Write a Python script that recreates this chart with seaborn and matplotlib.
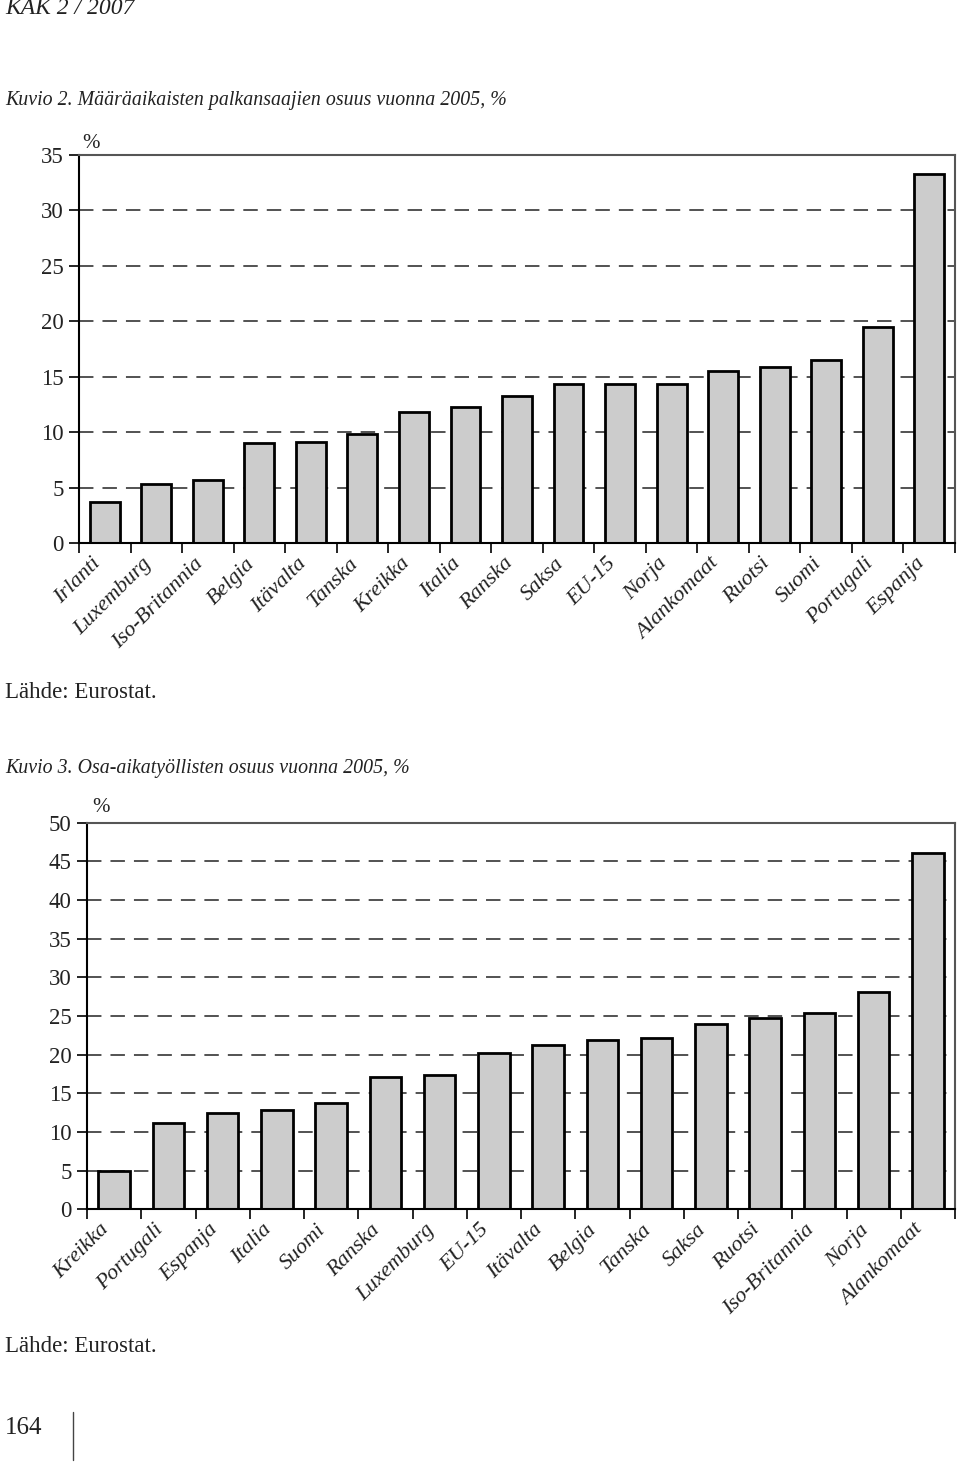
import numpy as np
import matplotlib
matplotlib.use("Agg")
import matplotlib.pyplot as plt
import seaborn as sns

# ---- data ----
cats1 = ["Irlanti", "Luxemburg", "Iso-Britannia", "Belgia", "Itävalta", "Tanska",
         "Kreikka", "Italia", "Ranska", "Saksa", "EU-15", "Norja", "Alankomaat",
         "Ruotsi", "Suomi", "Portugali", "Espanja"]
vals1 = [3.7, 5.3, 5.7, 9.0, 9.1, 9.8, 11.8, 12.3, 13.3, 14.3, 14.3, 14.3, 15.5,
         15.9, 16.5, 19.5, 33.3]
yticks1 = [0, 5, 10, 15, 20, 25, 30, 35]

cats2 = ["Kreikka", "Portugali", "Espanja", "Italia", "Suomi", "Ranska", "Luxemburg",
         "EU-15", "Itävalta", "Belgia", "Tanska", "Saksa", "Ruotsi", "Iso-Britannia",
         "Norja", "Alankomaat"]
vals2 = [5.0, 11.2, 12.4, 12.8, 13.8, 17.1, 17.4, 20.2, 21.2, 21.9, 22.1, 24.0, 24.7,
         25.4, 28.1, 46.1]
yticks2 = [0, 5, 10, 15, 20, 25, 30, 35, 40, 45, 50]

header = "KAK 2 / 2007"
title1 = "Kuvio 2. Määräaikaisten palkansaajien osuus vuonna 2005, %"
title2 = "Kuvio 3. Osa-aikatyöllisten osuus vuonna 2005, %"
source = "Lähde: Eurostat."
page = "164"

sns.set_theme(style="white")
plt.rcParams["font.family"] = ["Liberation Serif", "DejaVu Serif"]

fig = plt.figure(figsize=(9.6, 14.64), dpi=100)

def draw(ax, cats, vals, yticks):
    n = len(cats)
    sns.barplot(x=cats, y=vals, color="#cccccc", saturation=1, edgecolor="black",
                linewidth=2, width=0.58, ax=ax)
    ax.set_xlim(-0.5, n - 0.5)
    ax.set_ylim(yticks[0], yticks[-1])
    ax.set_yticks(yticks)
    ax.set_yticklabels([str(t) for t in yticks], fontsize=16.5, color="#222222")
    for t in yticks[1:-1]:
        ax.axhline(t, color="#444444", lw=1.3, ls=(0, (8, 5)), zorder=0)
    # labels anchored slightly left of bar centres, as in the reference
    ax.set_xticks(np.arange(n) - 0.27)
    ax.set_xticklabels(cats, rotation=45, ha="right", rotation_mode="anchor",
                       fontsize=16, style="italic", color="#222222")
    ax.set_xticks(np.arange(-0.5, n, 1), minor=True)
    ax.tick_params(axis="x", which="major", length=0, pad=8)
    ax.tick_params(axis="x", which="minor", length=7, width=1.2, direction="out",
                   color="black", bottom=True)
    ax.tick_params(axis="y", length=7, width=1.2, direction="out", color="black",
                   left=True, pad=4)
    for s in ["left", "bottom"]:
        ax.spines[s].set_color("black")
        ax.spines[s].set_linewidth(1.5)
    for s in ["top", "right"]:
        ax.spines[s].set_color("#555555")
        ax.spines[s].set_linewidth(1.5)
    ax.set_xlabel("")
    ax.set_ylabel("")
    ax.grid(False)

ax1 = fig.add_axes([79/960, 1 - 543/1464, (955-79)/960, (543-155)/1464])
draw(ax1, cats1, vals1, yticks1)
ax2 = fig.add_axes([87/960, 1 - 1209.3/1464, (955-87)/960, (1209.3-822.7)/1464])
draw(ax2, cats2, vals2, yticks2)

def px(x, y):
    return x/960, 1 - y/1464

fig.text(*px(5, 9), header, fontsize=17, style="italic", va="center", ha="left",
         color="#222222")
fig.text(*px(5, 100), title1, fontsize=14.3, style="italic", va="center", ha="left",
         color="#222222")
fig.text(*px(82, 143), "%", fontsize=15, va="center", ha="left", color="#222222")
fig.text(*px(5, 693), source, fontsize=16.5, va="center", ha="left", color="#222222")
fig.text(*px(5, 768), title2, fontsize=14.3, style="italic", va="center", ha="left",
         color="#222222")
fig.text(*px(92, 808), "%", fontsize=15, va="center", ha="left", color="#222222")
fig.text(*px(5, 1347), source, fontsize=16.5, va="center", ha="left", color="#222222")
fig.text(*px(5, 1428), page, fontsize=18, va="center", ha="left", color="#222222")
fig.add_artist(plt.Line2D([73/960, 73/960], [1 - 1412/1464, 1 - 1460/1464],
                          color="#444444", lw=1))

fig.savefig("out.png", dpi=100)
